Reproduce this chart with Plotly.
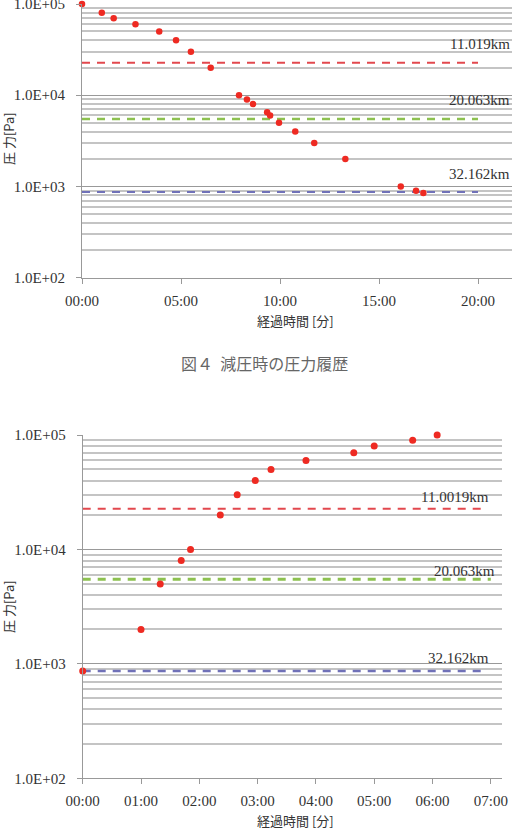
import numpy as np
import plotly.graph_objects as go

# ---- data ----
t1 = [0, 1.0, 1.6, 2.7, 3.9, 4.75, 5.5, 6.5, 7.93, 8.33, 8.64, 9.35, 9.5, 9.95, 10.77, 11.73, 13.3, 16.1, 16.87, 17.24]
p1 = [100000, 80000, 70000, 60000, 50000, 40000, 30000, 20000, 10000, 9000, 8000, 6500, 6000, 5000, 4000, 3000, 2000, 1000, 900, 850]

t2 = [0, 1.0, 1.33, 1.69, 1.85, 2.36, 2.65, 2.96, 3.23, 3.83, 4.65, 5.0, 5.66, 6.08]
p2 = [868, 2000, 5000, 8000, 10000, 20000, 30000, 40000, 50000, 60000, 70000, 80000, 90000, 100000]

layer_p = [22632, 5475, 868]
layer_labels1 = ["11.019km", "20.063km", "32.162km"]
layer_labels2 = ["11.0019km", "20.063km", "32.162km"]
layer_colors = ["#e2484e", "#8dc150", "#7071b8"]
layer_end1 = [20, 20, 20]
layer_end2 = [6.9, 7.0, 6.9]

x1_tickvals = [0, 5, 10, 15, 20]
x1_ticktext = ["00:00", "05:00", "10:00", "15:00", "20:00"]
x2_tickvals = [0, 1, 2, 3, 4, 5, 6, 7]
x2_ticktext = ["00:00", "01:00", "02:00", "03:00", "04:00", "05:00", "06:00", "07:00"]
y_tickvals = [100, 1000, 10000, 100000]
y_ticktext = ["1.0E+02", "1.0E+03", "1.0E+04", "1.0E+05"]

caption = "図４  減圧時の圧力履歴"
xtitle = "経過時間 [分]"
ytitle = "圧 力[Pa]"

W, H = 512, 833
minor_vals = [m * 10 ** d for d in range(2, 5) for m in range(2, 10)]

fig = go.Figure()

def add_chart(xa, ya, t, p, ends, widths, msize):
    for lp, col, e, w in zip(layer_p, layer_colors, ends, widths):
        fig.add_trace(go.Scatter(x=[0, e], y=[lp, lp], mode="lines", xaxis=xa, yaxis=ya,
                                 line=dict(color=col, width=w, dash="8px,7px"),
                                 showlegend=False, hoverinfo="skip"))
    fig.add_trace(go.Scatter(x=t, y=p, mode="markers", xaxis=xa, yaxis=ya, cliponaxis=False,
                             marker=dict(color="#ee2a22", size=msize), showlegend=False))

add_chart("x", "y", t1, p1, layer_end1, [2, 2.5, 2], 6.5)
add_chart("x2", "y2", t2, p2, layer_end2, [2, 3, 2.5], 7)

serif = "Liberation Serif"
sans = "Noto Sans CJK JP"

def xaxis_cfg(domain, rng, tv, tt, anchor):
    return dict(domain=domain, range=rng, tickvals=tv, ticktext=tt, anchor=anchor, automargin=False,
                showgrid=False, zeroline=False, showline=True, linecolor="#999", linewidth=1,
                ticks="outside", ticklen=5, tickcolor="#999", ticklabeloverflow="allow",
                tickfont=dict(family=serif, size=15, color="#333"), ticklabelstandoff=4)

def yaxis_cfg(domain, anchor):
    return dict(domain=domain, type="log", range=[2, 5], tickvals=y_tickvals, ticktext=y_ticktext,
                anchor=anchor, automargin=False, showgrid=True, gridcolor="#999", gridwidth=1,
                minor=dict(tickvals=minor_vals, showgrid=True, gridcolor="#c4c4c4", gridwidth=1.5, ticks=""),
                zeroline=False, showline=True, linecolor="#999", linewidth=1,
                ticks="outside", ticklen=5, tickcolor="#999", ticklabeloverflow="allow",
                tickfont=dict(family=serif, size=15, color="#333"), ticklabelstandoff=8)

fig.update_layout(
    width=W, height=H, margin=dict(l=0, r=0, t=0, b=0, autoexpand=False),
    paper_bgcolor="white", plot_bgcolor="white",
    font=dict(family=serif, color="#333"),
    xaxis=xaxis_cfg([82 / W, 1.0], [0, (512 - 82) / 19.8], x1_tickvals, x1_ticktext, "y"),
    yaxis=yaxis_cfg([1 - 277.7 / H, 1 - 4 / H], "x"),
    xaxis2=xaxis_cfg([82.7 / W, 502 / W], [0, (502 - 82.7) / 58.3], x2_tickvals, x2_ticktext, "y2"),
    yaxis2=yaxis_cfg([1 - 778.3 / H, 1 - 435 / H], "x2"),
)

ann = []
shifts1 = [19, 19, 18]
shifts2 = [12, 8, 13]
for lp, lab, s in zip(layer_p, layer_labels1, shifts1):
    ann.append(dict(x=1.0, xref="x domain", y=np.log10(lp), yref="y", yshift=s, text=lab,
                    xanchor="right", yanchor="middle", showarrow=False,
                    font=dict(family=serif, size=15, color="#333")))
for lp, lab, s, e in zip(layer_p, layer_labels2, shifts2, layer_end2):
    ann.append(dict(x=e, xref="x2", y=np.log10(lp), yref="y2", yshift=s, xshift=6, text=lab,
                    xanchor="right", yanchor="middle", showarrow=False,
                    font=dict(family=serif, size=15, color="#333")))
# axis titles
for xc, yc in [(295, 320), (295, 820)]:
    ann.append(dict(x=xc / W, y=1 - yc / H, xref="paper", yref="paper", text=xtitle, showarrow=False,
                    xanchor="center", yanchor="middle", font=dict(family=sans, size=13, color="#333")))
for yc in [139, 607]:
    ann.append(dict(x=8 / W, y=1 - yc / H, xref="paper", yref="paper", text=ytitle, showarrow=False,
                    textangle=-90, xanchor="center", yanchor="middle", font=dict(family=sans, size=13, color="#333")))
ann.append(dict(x=264 / W, y=1 - 363 / H, xref="paper", yref="paper", text=caption, showarrow=False,
                xanchor="center", yanchor="middle", font=dict(family=sans, size=16, color="#666")))
fig.update_layout(annotations=ann)

fig.write_html("out.html")
